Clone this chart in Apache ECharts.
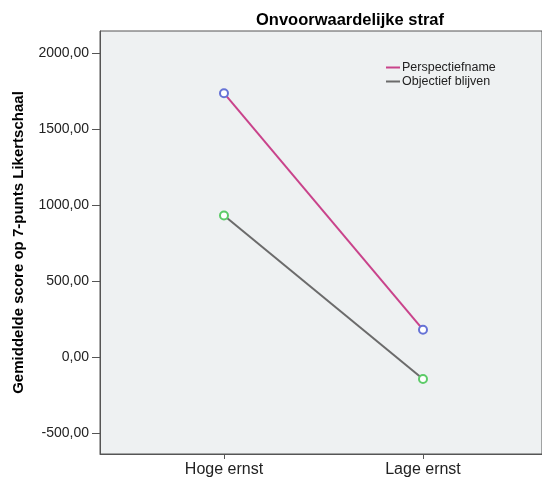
<!DOCTYPE html>
<html>
<head>
<meta charset="utf-8">
<script src="https://cdn.jsdelivr.net/npm/echarts@6/dist/echarts.min.js"></script>
<style>
  html, body { margin: 0; padding: 0; background: #fff; }
  #chart { width: 542px; height: 484px; }
</style>
</head>
<body>
<div id="chart"></div>
<script>
// categorieen op de x-as (posities 1 en 2)
const categories = ['Hoge ernst', 'Lage ernst'];
const seriesNames = ['Perspectiefname', 'Objectief blijven'];
const perspectief = [1736, 180];
const objectief = [931, -144];
const yTicks = [-500, 0, 500, 1000, 1500, 2000];

const lineColors = ['#c9438b', '#6b6b6b'];
const markerColors = ['#6673d6', '#5ccb68'];

const chart = echarts.init(document.getElementById('chart'));

const fmt = v => v.toFixed(2).replace('.', ',');
// punten op positie 1, 2; markers krijgen hun eigen kleur
const toPoints = (arr, c) => arr.map((v, i) => ({
  value: [i + 1, v],
  itemStyle: { color: c, borderColor: c }
}));

chart.setOption({
  animation: false,
  textStyle: { fontFamily: 'Liberation Sans, Arial, sans-serif' },
  title: {
    text: 'Onvoorwaardelijke straf',
    left: 345,
    textAlign: 'center',
    top: 7,
    textStyle: { fontSize: 16.5, fontWeight: 'bold', color: '#000' }
  },
  legend: {
    orient: 'vertical',
    left: 381,
    top: 56,
    itemGap: 1,
    itemWidth: 14,
    itemHeight: 2,
    icon: 'rect',
    textStyle: { fontSize: 12.5, color: '#222', padding: [0, 0, 0, -3] },
    data: seriesNames
  },
  grid: {
    left: 100, top: 31, right: -2, bottom: 30,
    show: true,
    backgroundColor: '#eef1f2',
    borderColor: '#555',
    borderWidth: 1
  },
  xAxis: {
    type: 'value',
    min: 0.377,
    max: 2.598,
    splitLine: { show: false },
    axisLine: { show: true, onZero: false, lineStyle: { color: '#555' } },
    axisTick: { show: true, customValues: [1, 2], length: 5, lineStyle: { color: '#555' } },
    axisLabel: {
      customValues: [1, 2],
      formatter: v => categories[Math.round(v) - 1],
      fontSize: 16, color: '#222', margin: 8
    }
  },
  yAxis: {
    type: 'value',
    min: -638,
    max: 2145,
    name: 'Gemiddelde score op 7-punts Likertschaal',
    nameLocation: 'middle',
    nameGap: 74,
    nameTextStyle: { fontSize: 15, fontWeight: 'bold', color: '#000' },
    splitLine: { show: false },
    axisLine: { show: true, lineStyle: { color: '#555' } },
    axisTick: { show: true, customValues: yTicks, length: 8, lineStyle: { color: '#555' } },
    axisLabel: {
      customValues: yTicks,
      formatter: fmt,
      fontSize: 14, color: '#222', margin: 11
    }
  },
  series: [0, 1].map(i => ({
    name: seriesNames[i],
    type: 'line',
    data: toPoints(i === 0 ? perspectief : objectief, markerColors[i]),
    lineStyle: { width: 2, color: lineColors[i] },
    symbol: 'emptyCircle',
    symbolSize: 8,
    itemStyle: { color: lineColors[i], borderWidth: 1.5 }
  }))
});
</script>
</body>
</html>
